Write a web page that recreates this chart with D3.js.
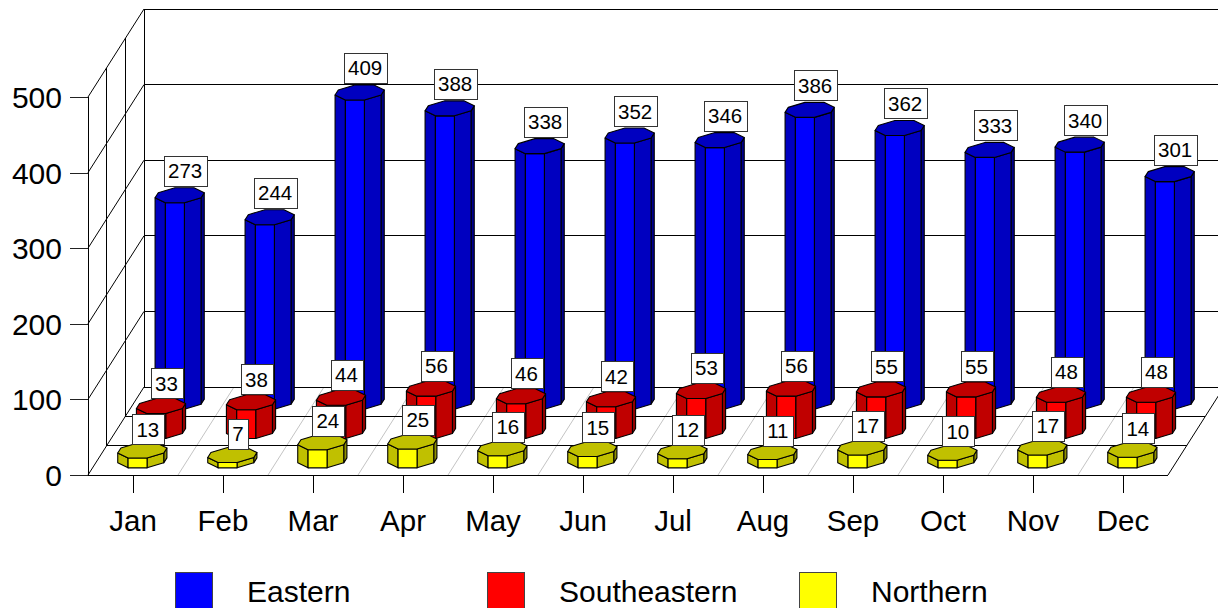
<!DOCTYPE html>
<html><head><meta charset="utf-8">
<script src="https://cdn.jsdelivr.net/npm/d3@7/dist/d3.min.js"></script>
<style>html,body{margin:0;padding:0;background:#fff;overflow:hidden}svg{display:block}text{font-family:"Liberation Sans",Arial,sans-serif;fill:#000}</style>
</head><body><svg id="c" width="1218" height="608"></svg>
<script>
const months = ["Jan","Feb","Mar","Apr","May","Jun","Jul","Aug","Sep","Oct","Nov","Dec"];
const eastern = [273,244,409,388,338,352,346,386,362,333,340,301];
const southeastern = [33,38,44,56,46,42,53,56,55,55,48,48];
const northern = [13,7,24,25,16,15,12,11,17,10,17,14];
const yTicks = [0,100,200,300,400,500];
const seriesNames = ["Eastern","Southeastern","Northern"];

const svg = d3.select("#c");
const L = 88, R = 1168, B = 475, H = 378, DX = 56, DY = 88;
const x = d3.scaleBand().domain(months).range([L, R]);
const y = d3.scaleLinear().domain([0, 500]).range([0, H]);
const z = d3.scaleBand().domain(["Northern","Southeastern","Eastern"]).range([0, 1]);
const px = (xv, zv) => xv + DX * zv;
const py = (h, zv) => B - h - DY * zv;

const series = [
  {name:"Eastern", values:eastern, top:"#0000c0", face:"#0000ff", side:"#0000c0", dark:"#000090", gap:9.5},
  {name:"Southeastern", values:southeastern, top:"#c00000", face:"#ff0000", side:"#c00000", dark:"#900000", gap:8},
  {name:"Northern", values:northern, top:"#c0c000", face:"#ffff00", side:"#c0c000", dark:"#909000", gap:6.5},
];

// walls & floor
const grid = svg.append("g").attr("fill","none").attr("stroke","#000").attr("stroke-width",1);
const line = (a,b,c) => { const s = grid.append("line").attr("x1",a[0]).attr("y1",a[1]).attr("x2",b[0]).attr("y2",b[1]);
  if (c) s.attr("stroke",c); s.attr("shape-rendering", (a[0]===b[0]||a[1]===b[1])?"crispEdges":"auto"); return s; };
x.domain().forEach((m,i) => { const xv = L + x.step()*i; if(i>0) line([px(xv,0),py(0,0)],[px(xv,1),py(0,1)],"#c4c4c4"); });
line([px(R,0),py(0,0)],[px(R,1),py(0,1)]);
yTicks.forEach(t => {
  const h = y(t);
  line([px(L,0),py(h,0)],[px(L,1),py(h,1)]);
  line([px(L,1),py(h,1)],[px(R,1),py(h,1)]);
});
[0,1/3,2/3].forEach(zv => {
  line([px(L,zv),py(0,zv)],[px(R,zv),py(0,zv)]);
  line([px(L,zv),py(0,zv)],[px(L,zv),py(H,zv)]);
});
line([px(L,1),py(0,1)],[px(L,1),py(H,1)]);

// axes
const axisY = d3.axisLeft(d3.scaleLinear().domain([0,500]).range([B,B-H])).tickValues(yTicks).tickSize(18).tickPadding(8);
const gy = svg.append("g").attr("transform",`translate(${L},0)`).call(axisY);
gy.select(".domain").remove();
gy.selectAll("line").attr("stroke","#222").attr("shape-rendering","crispEdges");
gy.selectAll("text").attr("font-size",30).attr("font-family",null).attr("dy","0.38em").attr("y",-1);
const axisX = d3.axisBottom(x).tickSize(18).tickPadding(17);
const gx = svg.append("g").attr("transform",`translate(0,${B})`).call(axisX);
gx.select(".domain").remove();
gx.selectAll("line").attr("stroke","#000").attr("shape-rendering","crispEdges");
gx.selectAll("text").attr("font-size",29.5).attr("font-family",null);

// octagon in (u, depth px)
const oct = [[-9.5,7.5],[9.5,7.5],[23,2.5],[23,-2.5],[9.5,-7.5],[-9.5,-7.5],[-23,-2.5],[-23,2.5]];
const toScreen = (cx, cz, h) => ([u,d]) => {
  const zv = cz - d / DY;
  return [px(cx + u, zv), py(h, zv)];
};
const path = pts => d3.line()(pts) + "Z";

const bars = svg.append("g").attr("stroke","#000").attr("stroke-width",1.1).attr("stroke-linejoin","round");
const labels = [];
series.forEach(s => {
  const cz = z(s.name) + z.bandwidth()/2;
  s.values.forEach((v,i) => {
    const cx = x(months[i]) + x.bandwidth()/2;
    const h = y(v);
    const T = toScreen(cx,cz,h), Bt = toScreen(cx,cz,0);
    const face = (a,b,fill) => bars.append("path").attr("fill",fill)
      .attr("d",path([T(oct[a]),T(oct[b]),Bt(oct[b]),Bt(oct[a])]));
    face(3,2,s.dark);
    face(7,0,s.side);
    face(2,1,s.side);
    face(0,1,s.face);
    bars.append("path").attr("fill",s.top).attr("d",path(oct.map(T)));
    labels.push({v, x:px(cx,cz)+5.5, y:py(h,cz)-s.gap});
  });
});

// value labels
const lg = svg.append("g");
labels.forEach(l => {
  const t = lg.append("text").attr("x",l.x).attr("y",l.y-7.5).attr("text-anchor","middle").attr("font-size",20.5).text(l.v);
  const w = t.node().getComputedTextLength() + 9;
  lg.insert("rect","text").attr("x",Math.round(l.x-w/2)+.5).attr("y",Math.round(l.y-30)+.5).attr("width",Math.round(w)).attr("height",30)
    .attr("fill","#fff").attr("stroke","#333").attr("stroke-width",1);
});

// legend
const legendX = d3.scalePoint().domain(seriesNames).range([175,799]);
const legendFill = d3.scaleOrdinal().domain(seriesNames).range(["#0000ff","#ff0000","#ffff00"]);
seriesNames.forEach(n => {
  svg.append("rect").attr("x",legendX(n)+.5).attr("y",572.5).attr("width",37).attr("height",40)
    .attr("fill",legendFill(n)).attr("stroke","#444").attr("stroke-width",1);
  svg.append("text").attr("x",legendX(n)+72).attr("y",602).attr("font-size",30).text(n);
});
</script></body></html>
